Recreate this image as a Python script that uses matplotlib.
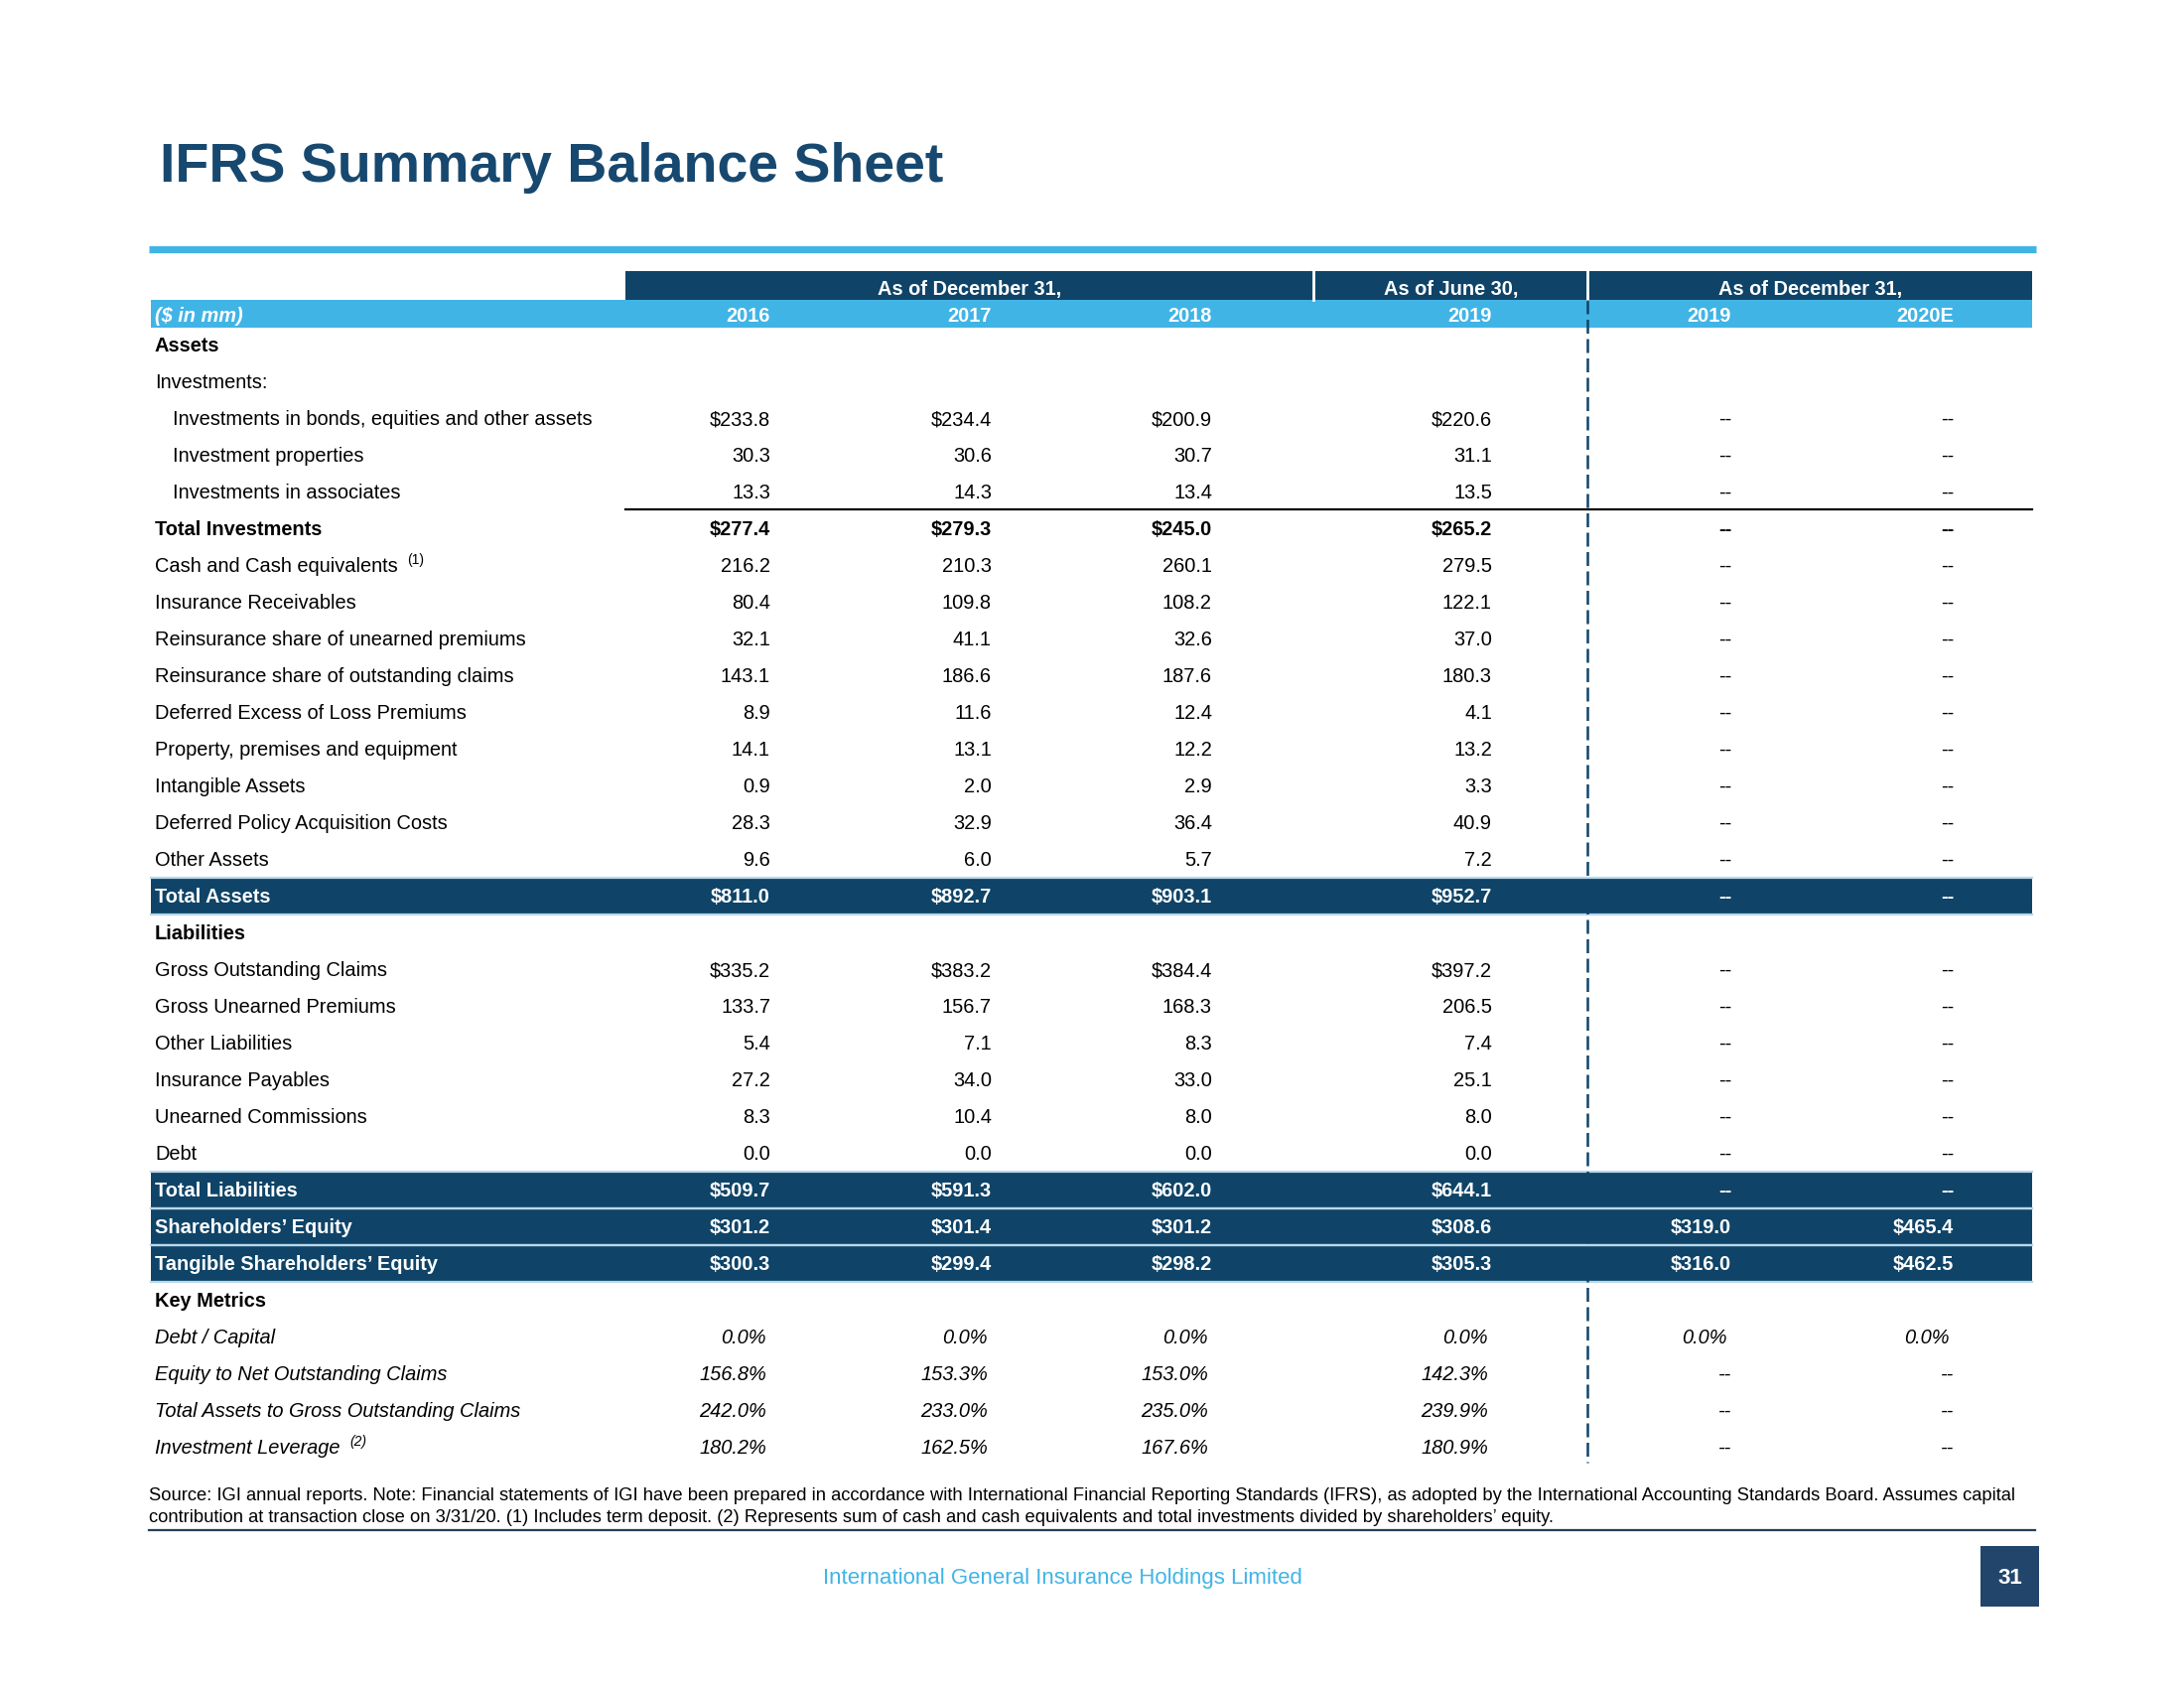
import matplotlib
matplotlib.use("Agg")
import matplotlib.pyplot as plt
from matplotlib.patches import Rectangle

plt.rcParams['font.family'] = ['Liberation Sans', 'DejaVu Sans']

# ---------------- data ----------------
title = "IFRS Summary Balance Sheet"
group_headers = ["As of December 31,", "As of June 30,", "As of December 31,"]
col_years = ["2016", "2017", "2018", "2019", "2019", "2020E"]
unit_label = "($ in mm)"

bonds = [233.8, 234.4, 200.9, 220.6, None, None]
inv_props = [30.3, 30.6, 30.7, 31.1, None, None]
inv_assoc = [13.3, 14.3, 13.4, 13.5, None, None]
total_inv = [277.4, 279.3, 245.0, 265.2, None, None]
cash = [216.2, 210.3, 260.1, 279.5, None, None]
ins_recv = [80.4, 109.8, 108.2, 122.1, None, None]
reins_unearned = [32.1, 41.1, 32.6, 37.0, None, None]
reins_outstanding = [143.1, 186.6, 187.6, 180.3, None, None]
def_xol = [8.9, 11.6, 12.4, 4.1, None, None]
ppe = [14.1, 13.1, 12.2, 13.2, None, None]
intangible = [0.9, 2.0, 2.9, 3.3, None, None]
dpac = [28.3, 32.9, 36.4, 40.9, None, None]
other_assets = [9.6, 6.0, 5.7, 7.2, None, None]
total_assets = [811.0, 892.7, 903.1, 952.7, None, None]
gross_claims = [335.2, 383.2, 384.4, 397.2, None, None]
gross_unearned = [133.7, 156.7, 168.3, 206.5, None, None]
other_liab = [5.4, 7.1, 8.3, 7.4, None, None]
ins_payables = [27.2, 34.0, 33.0, 25.1, None, None]
unearned_comm = [8.3, 10.4, 8.0, 8.0, None, None]
debt = [0.0, 0.0, 0.0, 0.0, None, None]
total_liab = [509.7, 591.3, 602.0, 644.1, None, None]
sh_equity = [301.2, 301.4, 301.2, 308.6, 319.0, 465.4]
tang_equity = [300.3, 299.4, 298.2, 305.3, 316.0, 462.5]
debt_capital = [0.0, 0.0, 0.0, 0.0, 0.0, 0.0]
eq_net_claims = [156.8, 153.3, 153.0, 142.3, None, None]
assets_gross_claims = [242.0, 233.0, 235.0, 239.9, None, None]
inv_leverage = [180.2, 162.5, 167.6, 180.9, None, None]

# (label, kind, values, dollar, superscript)
rows = [
    ("Assets", "section", None, False, None),
    ("Investments:", "plain", None, False, None),
    ("Investments in bonds, equities and other assets", "sub", bonds, True, None),
    ("Investment properties", "sub", inv_props, False, None),
    ("Investments in associates", "sub", inv_assoc, False, None),
    ("Total Investments", "bold", total_inv, True, None),
    ("Cash and Cash equivalents", "plain", cash, False, "(1)"),
    ("Insurance Receivables", "plain", ins_recv, False, None),
    ("Reinsurance share of unearned premiums", "plain", reins_unearned, False, None),
    ("Reinsurance share of outstanding claims", "plain", reins_outstanding, False, None),
    ("Deferred Excess of Loss Premiums", "plain", def_xol, False, None),
    ("Property, premises and equipment", "plain", ppe, False, None),
    ("Intangible Assets", "plain", intangible, False, None),
    ("Deferred Policy Acquisition Costs", "plain", dpac, False, None),
    ("Other Assets", "plain", other_assets, False, None),
    ("Total Assets", "band", total_assets, True, None),
    ("Liabilities", "section", None, False, None),
    ("Gross Outstanding Claims", "plain", gross_claims, True, None),
    ("Gross Unearned Premiums", "plain", gross_unearned, False, None),
    ("Other Liabilities", "plain", other_liab, False, None),
    ("Insurance Payables", "plain", ins_payables, False, None),
    ("Unearned Commissions", "plain", unearned_comm, False, None),
    ("Debt", "plain", debt, False, None),
    ("Total Liabilities", "band", total_liab, True, None),
    ("Shareholders\u2019 Equity", "band", sh_equity, True, None),
    ("Tangible Shareholders\u2019 Equity", "band", tang_equity, True, None),
    ("Key Metrics", "section", None, False, None),
    ("Debt / Capital", "metric", debt_capital, False, None),
    ("Equity to Net Outstanding Claims", "metric", eq_net_claims, False, None),
    ("Total Assets to Gross Outstanding Claims", "metric", assets_gross_claims, False, None),
    ("Investment Leverage", "metric", inv_leverage, False, "(2)"),
]

footnote_lines = [
    "Source: IGI annual reports. Note: Financial statements of IGI have been prepared in accordance with "
    "International Financial Reporting Standards (IFRS), as adopted by the International Accounting Standards Board. "
    "Assumes capital",
    "contribution at transaction close on 3/31/20. (1) Includes term deposit. (2) Represents sum of "
    "cash and cash equivalents and total investments divided by shareholders\u2019 equity.",
]
company = "International General Insurance Holdings Limited"
page_no = "31"

# ---------------- style ----------------
NAVY = '#0f4468'
TITLE_C = '#17486f'
LBLUE = '#41b4e6'
SEP = '#b9d8ec'
FS = 7.2

fig = plt.figure(figsize=(11, 8.5), dpi=200)
ax = fig.add_axes([0, 0, 1, 1])
ax.set_xlim(0, 2200)
ax.set_ylim(1700, 0)
ax.axis('off')

# title and rule
ax.text(161, 183, title, fontsize=20, fontweight='bold', color=TITLE_C, va='baseline', ha='left')
ax.plot([150, 2051], [251, 251], color=LBLUE, lw=2.6, solid_capstyle='butt')

# header bands
ax.add_patch(Rectangle((630, 273), 2047 - 630, 29, color=NAVY, lw=0))
ax.add_patch(Rectangle((152, 302), 2047 - 152, 28, color=LBLUE, lw=0))
for xs in (1323, 1599):
    ax.plot([xs, xs], [273, 302], color='white', lw=1.0)
group_centers = [977, 1462, 1824]
for h, xc in zip(group_headers, group_centers):
    ax.text(xc, 297, h, fontsize=FS, fontweight='bold', color='white', ha='center', va='baseline')
col_right = [776, 999, 1221, 1503, 1744, 1968]
for yr, xr in zip(col_years, col_right):
    ax.text(xr, 324, yr, fontsize=FS, fontweight='bold', color='white', ha='right', va='baseline')
ax.text(156, 324, unit_label, fontsize=FS, fontweight='bold', style='italic', color='white',
        ha='left', va='baseline')

# rows
y0, pitch = 347, 37
for i, (label, kind, vals, dollar, sup) in enumerate(rows):
    yc = y0 + pitch * i
    yb = yc + 7
    if kind == "band":
        ax.add_patch(Rectangle((152, yc - 18.5), 2047 - 152, 37, color=NAVY, lw=0, zorder=1))
    color = 'white' if kind == "band" else 'black'
    weight = 'bold' if kind in ("section", "bold", "band") else 'normal'
    fstyle = 'italic' if kind == "metric" else 'normal'
    lx = 174 if kind == "sub" else 156
    t = ax.text(lx, yb, label, fontsize=FS, fontweight=weight, style=fstyle, color=color,
                ha='left', va='baseline', zorder=3)
    if sup:
        ax.annotate(sup, xy=(1, 1), xycoords=t, xytext=(3.5, 1.5), textcoords='offset points',
                    fontsize=5, style=fstyle, color=color, ha='left', va='top', zorder=3)
    if vals is None:
        continue
    for j, (v, xr) in enumerate(zip(vals, col_right)):
        if v is None:
            s = "--"
            xx = xr
        elif kind == "metric":
            s = f"{v:.1f}%"
            xx = xr - 4
        else:
            s = (f"${v:,.1f}" if dollar else f"{v:.1f}")
            xx = xr
        ax.text(xx, yb, s, fontsize=FS, fontweight=weight, style=fstyle, color=color,
                ha='right', va='baseline', zorder=3)

# line above Total Investments
ax.plot([630, 2047], [513, 513], color='black', lw=0.8, zorder=2)

# separators between bands
for i, (label, kind, vals, dollar, sup) in enumerate(rows):
    if kind == "band":
        yc = y0 + pitch * i
        for yy in (yc - 18.5, yc + 18.5):
            ax.plot([152, 2047], [yy, yy], color=SEP, lw=0.8, zorder=2)

# dashed vertical divider
ax.plot([1599, 1599], [302, 1473], color=NAVY, lw=0.9, linestyle=(0, (5.6, 2.2)), zorder=2.5)

# footnote
for k, line in enumerate(footnote_lines):
    ax.text(150, 1511 + 22 * k, line, fontsize=6.6, color='black', ha='left', va='baseline')
ax.plot([150, 2050], [1541, 1541], color='#243f5a', lw=0.8)

# footer
ax.text(1070, 1595, company, fontsize=8, color=LBLUE, ha='center', va='baseline')
ax.add_patch(Rectangle((1995, 1557), 59, 61, color='#22466b', lw=0))
ax.text(2024.5, 1595, page_no, fontsize=8, fontweight='bold', color='white', ha='center', va='baseline')

fig.savefig("out.png", dpi=200)
